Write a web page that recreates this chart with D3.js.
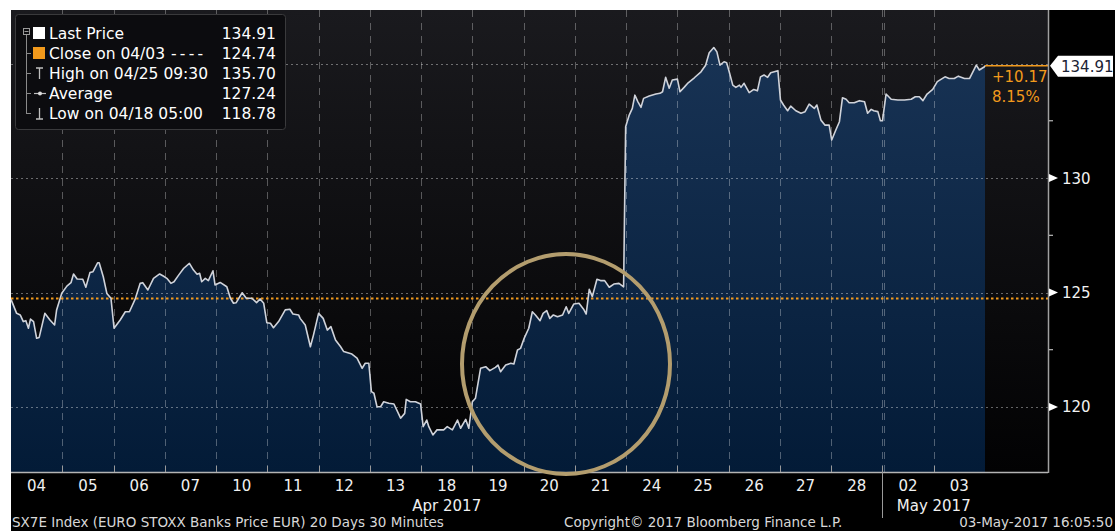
<!DOCTYPE html>
<html><head><meta charset="utf-8">
<script src="https://cdn.jsdelivr.net/npm/d3@7"></script>
<style>
html,body{margin:0;padding:0;background:#fff;}
svg{display:block;}
text{font-family:"DejaVu Sans",sans-serif;}
</style></head>
<body>
<svg id="chart" width="1115" height="531"></svg>
<script>
// ---------------- DATA ----------------
const dayLabels = ["04","05","06","07","10","11","12","13","18","19","20","21","24","25","26","27","28","02","03"];
const monthLabels = ["Apr 2017","May 2017"];
const monthStartDay = [0, 17];            // index of first trading day of each month
const yTicks = [120, 125, 130];
const yGrid = [120, 125, 130, 135];
const yMinor = [122.5, 127.5, 132.5];
const previousClose = 124.74;
const lastPrice = 134.91;
const netChange = "+10.17";
const pctChange = "8.15%";

// time in trading-day units (0 = open of 04 Apr, 19 = end of 03 May)
const sessionTime = [
 0.00,0.11,0.18,0.24,0.29,0.34,0.38,0.44,0.50,0.55,
 0.66,0.76,0.85,0.89,0.99,1.09,1.17,1.22,1.29,1.40,
 1.46,1.54,1.60,1.69,1.72,1.80,1.87,1.95,2.01,2.13,
 2.23,2.31,2.42,2.52,2.57,2.67,2.78,2.90,2.97,3.04,
 3.12,3.18,3.27,3.37,3.48,3.56,3.63,3.68,3.72,3.79,
 3.85,3.94,3.98,4.08,4.21,4.28,4.34,4.39,4.51,4.59,
 4.70,4.79,4.86,4.93,4.99,5.06,5.12,5.22,5.35,5.44,
 5.50,5.61,5.64,5.74,5.84,5.90,6.00,6.09,6.17,6.24,
 6.33,6.43,6.49,6.65,6.75,6.85,6.91,6.98,7.03,7.08,
 7.14,7.21,7.27,7.37,7.47,7.60,7.68,7.71,7.79,7.89,
 7.99,8.04,8.11,8.15,8.23,8.31,8.44,8.51,8.61,8.71,
 8.77,8.87,8.93,9.00,9.06,9.16,9.26,9.34,9.45,9.50,
 9.55,9.65,9.75,9.81,9.88,9.94,10.01,10.10,10.17,10.23,
 10.32,10.38,10.45,10.51,10.58,10.66,10.76,10.83,10.88,10.98,
 11.08,11.17,11.22,11.28,11.34,11.43,11.50,11.58,11.67,11.76,
 11.86,11.95,11.99,12.06,12.12,12.17,12.23,12.29,12.34,12.45,
 12.58,12.66,12.71,12.77,12.84,12.90,13.00,13.05,13.13,13.21,
 13.33,13.46,13.55,13.62,13.71,13.77,13.83,13.91,13.96,14.01,
 14.08,14.14,14.21,14.24,14.30,14.40,14.49,14.56,14.62,14.69,
 14.76,14.82,14.96,15.01,15.07,15.15,15.21,15.31,15.41,15.49,
 15.57,15.67,15.72,15.80,15.88,15.96,16.01,16.09,16.16,16.22,
 16.29,16.35,16.45,16.55,16.65,16.71,16.78,16.83,16.91,16.96,
 17.00,17.07,17.17,17.30,17.43,17.56,17.64,17.72,17.79,17.87,
 17.98,18.07,18.14,18.22,18.30,18.40,18.48,18.60,18.70,18.83,
 18.89,18.99,19.00
];
const price = [
 124.70,124.09,124.02,123.73,123.77,123.44,123.84,123.73,123.00,123.04,
 124.09,123.80,123.58,124.24,124.97,125.28,125.43,125.81,125.59,125.58,
 125.23,125.87,125.91,126.30,126.30,125.69,124.96,124.75,123.44,123.80,
 124.16,124.16,124.70,125.40,125.43,125.11,125.62,125.81,125.72,125.62,
 125.40,125.47,125.76,126.06,126.27,125.98,125.80,125.84,125.47,125.62,
 125.52,125.95,125.33,125.44,125.25,124.75,124.53,124.55,124.99,124.75,
 124.75,124.56,124.72,124.53,123.68,123.66,123.46,123.73,124.24,124.27,
 124.06,124.02,123.87,123.58,122.63,123.14,124.09,123.87,123.36,123.51,
 122.93,122.63,122.42,122.31,122.13,121.69,121.91,121.91,120.67,120.60,
 120.01,120.01,120.23,120.16,120.13,119.51,119.72,120.33,120.23,120.23,
 120.13,119.14,119.43,119.14,118.78,119.00,119.00,119.14,119.00,119.43,
 119.07,119.46,119.07,120.23,120.38,121.69,121.76,121.59,121.73,121.83,
 121.54,121.83,121.91,121.88,122.49,122.56,123.00,123.44,124.16,124.02,
 123.77,124.09,124.21,123.87,124.02,123.94,124.02,124.38,124.09,124.50,
 124.53,124.27,124.06,125.14,124.82,125.58,125.52,125.52,125.23,125.37,
 125.40,125.25,132.24,132.75,133.04,133.62,133.33,133.09,133.48,133.58,
 133.67,133.70,133.77,134.40,133.92,134.28,134.32,133.77,133.96,134.16,
 134.38,134.64,134.93,135.47,135.70,135.51,134.93,135.08,135.04,134.64,
 134.06,133.96,134.06,133.96,134.14,133.73,133.87,133.81,134.42,134.50,
 134.40,134.60,134.69,133.41,133.19,132.94,133.14,132.94,132.83,132.90,
 133.23,133.04,133.19,132.53,132.31,132.31,131.66,132.10,132.46,133.51,
 133.44,133.29,133.29,133.38,133.33,132.83,133.00,132.94,132.90,132.50,
 132.50,133.67,133.44,133.41,133.41,133.44,133.55,133.55,133.38,133.67,
 133.87,134.21,134.31,134.42,134.35,134.35,134.45,134.35,134.35,134.93,
 134.72,134.86,134.91
];

const legendLabels = ["Last Price","Close on 04/03","High on 04/25 09:30","Average","Low on 04/18 05:00"];
const legendSuffix = ["","----","","",""];
const legendValues = ["134.91","124.74","135.70","127.24","118.78"];

const footerLeft = "SX7E Index (EURO STOXX Banks Price EUR) 20 Days 30 Minutes";
const footerMid = "Copyright\u00A9 2017 Bloomberg Finance L.P.";
const footerRight = "03-May-2017 16:05:50";

// ---------------- LAYOUT ----------------
const W = 1115, H = 531;
const plot = {l: 11, t: 10, r: 1048, b: 472};
const dataRight = 985;
const ORANGE = "#f29a1c";

const svg = d3.select("#chart");
const defs = svg.append("defs");

const bgGrad = defs.append("linearGradient").attr("id","bg").attr("x1",0).attr("y1",0).attr("x2",0).attr("y2",1);
bgGrad.append("stop").attr("offset","0%").attr("stop-color","#1a1a1e");
bgGrad.append("stop").attr("offset","100%").attr("stop-color","#020203");

const fillGrad = defs.append("linearGradient").attr("id","fillg")
  .attr("gradientUnits","userSpaceOnUse").attr("x1",0).attr("y1",plot.t).attr("x2",0).attr("y2",plot.b);
fillGrad.append("stop").attr("offset","0%").attr("stop-color","#1a3557");
fillGrad.append("stop").attr("offset","100%").attr("stop-color","#031b37");

// outer backgrounds
svg.append("rect").attr("x",0).attr("y",0).attr("width",W).attr("height",H).attr("fill","#ffffff");
svg.append("rect").attr("x",plot.l).attr("y",plot.t).attr("width",W-plot.l).attr("height",H-plot.t).attr("fill","#000");
svg.append("rect").attr("x",plot.l).attr("y",plot.t).attr("width",plot.r-plot.l).attr("height",plot.b-plot.t).attr("fill","url(#bg)");

// scales
const x = d3.scaleLinear().domain([0, dayLabels.length]).range([plot.l, dataRight]);
const y = d3.scaleLinear().domain([117.16, 137.34]).range([plot.b, plot.t]);

const series = sessionTime.map((t,i)=>({t, v: price[i]}));

// area
const area = d3.area().x(d=>x(d.t)).y0(plot.b).y1(d=>y(d.v));
svg.append("path").datum(series).attr("d",area).attr("fill","url(#fillg)");

// horizontal dotted grid
svg.append("g").selectAll("line").data(yGrid).join("line")
  .attr("x1",plot.l).attr("x2",plot.r).attr("y1",d=>Math.round(y(d))+0.5).attr("y2",d=>Math.round(y(d))+0.5)
  .attr("stroke","rgba(255,255,255,0.38)").attr("stroke-width",1).attr("stroke-dasharray","2,3");

// vertical dashed grid at day boundaries
const bounds = d3.range(1, dayLabels.length);
svg.append("g").selectAll("line").data(bounds).join("line")
  .attr("x1",d=>Math.round(x(d))+0.5).attr("x2",d=>Math.round(x(d))+0.5)
  .attr("y1",plot.t).attr("y2",plot.b)
  .attr("stroke","rgba(255,255,255,0.3)").attr("stroke-width",1).attr("stroke-dasharray","7,6");
// month boundary double line
svg.append("g").selectAll("line").data(monthStartDay.slice(1)).join("line")
  .attr("x1",d=>Math.round(x(d))+2.5).attr("x2",d=>Math.round(x(d))+2.5)
  .attr("y1",plot.t).attr("y2",plot.b)
  .attr("stroke","rgba(255,255,255,0.3)").attr("stroke-width",1).attr("stroke-dasharray","7,6");

// previous close line
svg.append("line").attr("x1",plot.l).attr("x2",plot.r)
  .attr("y1",y(previousClose)).attr("y2",y(previousClose))
  .attr("stroke",ORANGE).attr("stroke-width",2).attr("stroke-dasharray","2.5,2.5");

// price line
const line = d3.line().x(d=>x(d.t)).y(d=>y(d.v));
svg.append("path").datum(series).attr("d",line).attr("fill","none")
  .attr("stroke","#d0d3da").attr("stroke-width",1.6).attr("stroke-linejoin","round");

// last price orange line to axis
svg.append("line").attr("x1",dataRight).attr("x2",plot.r).attr("y1",y(lastPrice)).attr("y2",y(lastPrice))
  .attr("stroke",ORANGE).attr("stroke-width",1.5);
svg.append("text").attr("x",dataRight+7).attr("y",y(lastPrice)+16).attr("fill",ORANGE)
  .attr("font-size",15).text(netChange);
svg.append("text").attr("x",dataRight+7).attr("y",y(lastPrice)+36).attr("fill",ORANGE)
  .attr("font-size",15).text(pctChange);

// axes lines
svg.append("line").attr("x1",plot.r+0.5).attr("x2",plot.r+0.5).attr("y1",plot.t).attr("y2",plot.b+1)
  .attr("stroke","#a0a0a0").attr("stroke-width",1.5);
svg.append("line").attr("x1",plot.l).attr("x2",plot.r).attr("y1",plot.b+0.5).attr("y2",plot.b+0.5)
  .attr("stroke","#b4b4b4").attr("stroke-width",1.5);

// right axis ticks (triangles) + labels
const yAx = svg.append("g");
yAx.selectAll("path").data(yTicks).join("path")
  .attr("d",d=>{const yy=y(d);return `M${plot.r+1},${yy-4} L${plot.r+10},${yy} L${plot.r+1},${yy+4} Z`;})
  .attr("fill","#ffffff");
yAx.selectAll("text").data(yTicks).join("text")
  .attr("x",plot.r+14).attr("y",d=>y(d)+5.5).attr("fill","#f2f2f2").attr("font-size",15)
  .text(d=>d3.format("d")(d));
yAx.selectAll("line").data(yMinor).join("line")
  .attr("x1",plot.r+1).attr("x2",plot.r+5).attr("y1",d=>y(d)).attr("y2",d=>y(d))
  .attr("stroke","#dddddd").attr("stroke-width",1);

// last price callout
const ly = y(lastPrice);
svg.append("path")
  .attr("d",`M${plot.r+2},${ly} L${plot.r+10},${ly-10} L${W-2},${ly-10} L${W-2},${ly+11} L${plot.r+10},${ly+11} Z`)
  .attr("fill","#ffffff");
svg.append("text").attr("x",plot.r+13).attr("y",ly+6).attr("fill","#1b2233").attr("font-size",15)
  .text(d3.format(".2f")(lastPrice));

// bottom axis: ticks at day boundaries
svg.append("g").selectAll("line").data(bounds).join("line")
  .attr("x1",d=>Math.round(x(d))+0.5).attr("x2",d=>Math.round(x(d))+0.5)
  .attr("y1",plot.b-6).attr("y2",plot.b)
  .attr("stroke","#9a9a9a").attr("stroke-width",1);
svg.append("g").selectAll("text").data(dayLabels).join("text")
  .attr("x",(d,i)=>x(i+0.5)).attr("y",491).attr("text-anchor","middle")
  .attr("fill","#f0f0f0").attr("font-size",15).text(d=>d);
// month labels centered over their range
const monthEnd = monthStartDay.slice(1).concat([dayLabels.length]);
svg.append("g").selectAll("text").data(monthLabels).join("text")
  .attr("x",(d,i)=>x((monthStartDay[i]+monthEnd[i])/2)).attr("y",511).attr("text-anchor","middle")
  .attr("fill","#f0f0f0").attr("font-size",15).text(d=>d);
// month separator below axis
svg.append("g").selectAll("line").data(monthStartDay.slice(1)).join("line")
  .attr("x1",d=>Math.round(x(d))+0.5).attr("x2",d=>Math.round(x(d))+0.5)
  .attr("y1",plot.b).attr("y2",518).attr("stroke","#9a9a9a").attr("stroke-width",1);

// annotation ellipse
svg.append("ellipse").attr("cx",566).attr("cy",364).attr("rx",104).attr("ry",110)
  .attr("fill","none").attr("stroke","#b39d6e").attr("stroke-width",4);

// legend
const lg = svg.append("g");
lg.append("rect").attr("x",15.5).attr("y",14.5).attr("width",270).attr("height",115).attr("rx",3)
  .attr("fill","#0c0c0f").attr("stroke","#3a3a3c");
const rowY = legendLabels.map((d,i)=>39+i*20);
// tree
lg.append("rect").attr("x",23.5).attr("y",28.5).attr("width",6).attr("height",6).attr("fill","none").attr("stroke","#9a9a9a");
lg.append("line").attr("x1",24.5).attr("x2",28.5).attr("y1",31.5).attr("y2",31.5).attr("stroke","#9a9a9a");
lg.append("line").attr("x1",26.5).attr("x2",26.5).attr("y1",35).attr("y2",rowY[4]-5).attr("stroke","#8a8a8a");
lg.selectAll(".br").data(rowY.slice(1)).join("line").attr("class","br")
  .attr("x1",26.5).attr("x2",31).attr("y1",d=>d-5.5).attr("y2",d=>d-5.5).attr("stroke","#8a8a8a");
// markers
lg.append("rect").attr("x",33).attr("y",27).attr("width",12).attr("height",12).attr("fill","#ffffff");
lg.append("rect").attr("x",33).attr("y",47).attr("width",12).attr("height",12).attr("fill",ORANGE);
lg.append("path").attr("d",`M36,${rowY[2]-11} L43,${rowY[2]-11} M39.5,${rowY[2]-11} L39.5,${rowY[2]}`)
  .attr("stroke","#bfbfbf").attr("stroke-width",1.3).attr("fill","none");
lg.append("line").attr("x1",34).attr("x2",46).attr("y1",rowY[3]-5.5).attr("y2",rowY[3]-5.5).attr("stroke","#bfbfbf").attr("stroke-width",1.2);
lg.append("circle").attr("cx",40).attr("cy",rowY[3]-5.5).attr("r",2).attr("fill","#dcdcdc");
lg.append("path").attr("d",`M39.5,${rowY[4]-11} L39.5,${rowY[4]} M36,${rowY[4]} L43,${rowY[4]}`)
  .attr("stroke","#bfbfbf").attr("stroke-width",1.3).attr("fill","none");
const lt = lg.selectAll(".lt").data(legendLabels).join("text").attr("class","lt")
  .attr("x",49).attr("y",(d,i)=>rowY[i]).attr("fill","#ffffff").attr("font-size",15.5);
lt.append("tspan").text(d=>d);
lt.append("tspan").attr("dx",6).attr("letter-spacing",3.2).text((d,i)=>legendSuffix[i]);
lg.selectAll(".lv").data(legendValues).join("text").attr("class","lv")
  .attr("x",276).attr("y",(d,i)=>rowY[i]).attr("text-anchor","end").attr("fill","#ffffff").attr("font-size",15.5).text(d=>d);

// footer
svg.append("text").attr("x",12).attr("y",527).attr("fill","#d8d8d8").attr("font-size",13.5).text(footerLeft);
svg.append("text").attr("x",564).attr("y",527).attr("fill","#d8d8d8").attr("font-size",13.5).text(footerMid);
svg.append("text").attr("x",1113).attr("y",527).attr("text-anchor","end").attr("fill","#d8d8d8").attr("font-size",13.5).text(footerRight);
</script>
</body></html>
